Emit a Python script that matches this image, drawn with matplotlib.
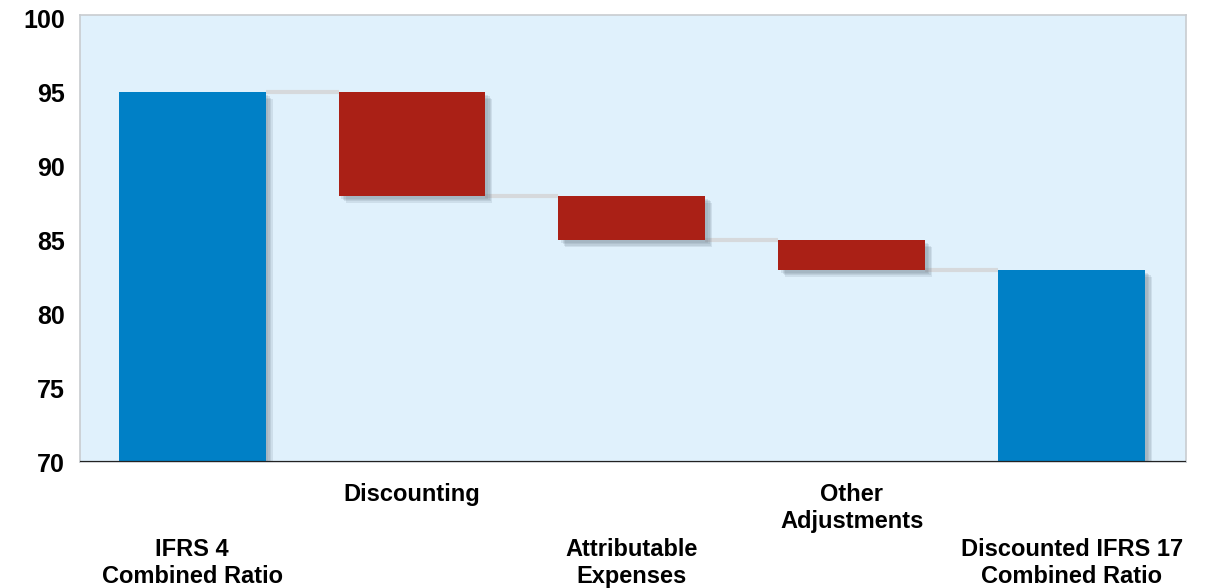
import numpy as np
import matplotlib.pyplot as plt
import matplotlib.patheffects as pe

plt.rcParams['font.family'] = ['Liberation Sans', 'DejaVu Sans']

# waterfall data
categories = ['IFRS 4\nCombined Ratio', 'Discounting', 'Attributable\nExpenses',
              'Other\nAdjustments', 'Discounted IFRS 17\nCombined Ratio']
start_value = 95
deltas = [-7, -3, -2]
end_value = 83
yticks = [70, 75, 80, 85, 90, 95, 100]

BLUE = '#0080C6'
RED = '#AA2016'
BG = '#E0F1FC'
BASE = 70

# bottoms / heights
levels = [start_value]
for d in deltas:
    levels.append(levels[-1] + d)
bottoms = [BASE]
heights = [start_value - BASE]
for i, d in enumerate(deltas):
    bottoms.append(min(levels[i], levels[i + 1]))
    heights.append(abs(d))
bottoms.append(BASE)
heights.append(end_value - BASE)
colors = [BLUE] + [RED] * len(deltas) + [BLUE]

x = np.arange(len(categories))
width = 0.668

fig = plt.figure(figsize=(12.12, 5.88), dpi=100)
ax = fig.add_axes([0.066, 0.214, 0.9126, 0.76])
ax.set_facecolor(BG)

# connector lines
for i in range(len(categories) - 1):
    lvl = levels[i] if i < len(levels) else end_value
    ax.plot([x[i] + width / 2, x[i + 1] - width / 2], [lvl, lvl],
            color='#D6D9DC', lw=3, zorder=1, solid_capstyle='butt')

# soft shadow: a few stacked offsets
shadow = [pe.SimplePatchShadow(offset=(k, -k), shadow_rgbFace='#6E7F8C', alpha=0.16)
          for k in (2, 3, 4, 5)] + [pe.Normal()]
bars = ax.bar(x, heights, width=width, bottom=bottoms, color=colors, zorder=2)
for b in bars:
    b.set_path_effects(shadow)

ax.axhline(BASE, color='#222222', lw=1.6, zorder=3)

ax.set_xlim(-0.51, 4.52)
ax.set_ylim(BASE, 100.2)
ax.set_yticks(yticks)
ax.set_yticklabels([str(t) for t in yticks], fontsize=18, fontweight='bold')
ax.tick_params(axis='y', length=0, pad=11)
ax.set_xticks([])
for s in ax.spines.values():
    s.set_color('#C8CCD0')
    s.set_linewidth(1.2)

# staggered category labels
for i, lab in enumerate(categories):
    off = -21 if i % 2 == 1 else -76
    ax.annotate(lab, xy=(x[i], 0), xycoords=('data', 'axes fraction'),
                xytext=(0, off), textcoords='offset pixels',
                ha='center', va='top', fontsize=17, fontweight='bold',
                linespacing=1.22, annotation_clip=False)

fig.savefig('out.png', dpi=100)
